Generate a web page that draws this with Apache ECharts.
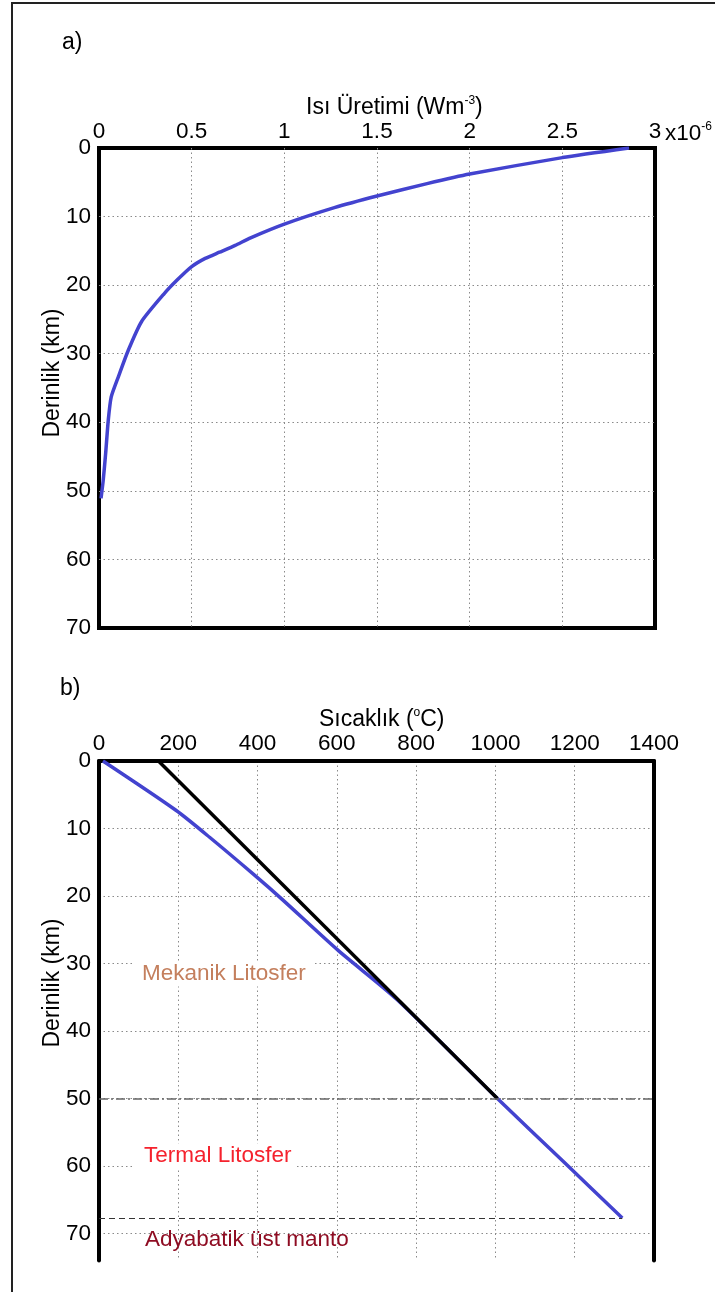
<!DOCTYPE html>
<html>
<head>
<meta charset="utf-8">
<script src="https://cdn.jsdelivr.net/npm/echarts@6/dist/echarts.min.js"></script>
<style>
html, body { margin: 0; padding: 0; background: #fff; }
#chart { width: 715px; height: 1292px; }
</style>
</head>
<body>
<div id="chart"></div>
<script>
// a) isi uretimi - derinlik
var heatDepth = [0, 1.4, 3.8, 5.2, 7.0, 8.7, 11.1, 13.1, 14.2, 15.2, 16.1, 17.3, 19.3, 21.3, 25.3, 29.5, 33.4, 36.3, 39.7, 44.5, 48.4, 51.1];
var heatValue = [2.86, 2.5, 2.0, 1.77, 1.5, 1.27, 1.0, 0.818, 0.735, 0.65, 0.573, 0.5, 0.42, 0.35, 0.23, 0.158, 0.104, 0.066, 0.05, 0.036, 0.023, 0.011];

// b) sicaklik - derinlik (jeoterm + mekanik litosfer)
var geoDepth = [0, 7.3, 11.3, 17.1, 20.5, 28.1, 35.3, 50, 59.6, 67.7];
var geoTemp = [10, 194, 279, 396, 462, 604, 751, 1005, 1176, 1320];
var mechDepth = [0, 50];
var mechTemp = [150, 1005];

// sinirlar
var mechBase = 50;
var thermalBase = 67.7;

// eksenler
var heatTicks = [0, 0.5, 1, 1.5, 2, 2.5, 3];
var tempTicks = [0, 200, 400, 600, 800, 1000, 1200, 1400];
var depthTicks = [0, 10, 20, 30, 40, 50, 60, 70];

var font = 'Liberation Sans, Arial, sans-serif';
var gridColor = '#8a8a8a';
var blue = '#4343cf';

function pairs(xs, ys) {
	var out = [];
	for (var i = 0; i < xs.length; i++) {
		out.push([xs[i], ys[i]]);
	}
	return out;
}

function tickAxis(ticks) {
	return {
		min : ticks[0],
		max : ticks[ticks.length - 1],
		interval : ticks[1] - ticks[0]
	};
}

function plain(v) {
	return String(v);
}

var labelStyle = {
	color : '#000',
	fontFamily : font,
	fontSize : 22.5,
	formatter : plain
};

var split = {
	show : true,
	showMinLine : false,
	showMaxLine : false,
	lineStyle : {
		color : gridColor,
		width : 1,
		type : [1.5, 3]
	}
};

var heatX = tickAxis(heatTicks);
var tempX = tickAxis(tempTicks);
var depthY = tickAxis(depthTicks);

var charts = echarts.init(document.getElementById('chart'), null, {
			renderer : 'canvas'
		});

function supText(x, y, main1, sup, main2, size) {
	return {
		type : 'text',
		x : x,
		y : y,
		style : {
			text : '{n|' + main1 + '}{s|' + sup + '}' + (main2 ? '{n|' + main2 + '}' : ''),
			verticalAlign : 'middle',
			rich : {
				n : {
					fontFamily : font,
					fontSize : size,
					lineHeight : 26,
					fill : '#000'
				},
				s : {
					fontFamily : font,
					fontSize : 12,
					lineHeight : 26,
					verticalAlign : 'top',
					fill : '#000'
				}
			}
		}
	};
}

var option = {
	animation : false,
	backgroundColor : '#fff',
	grid : [{
				left : 99,
				top : 148,
				width : 556,
				height : 480,
				show : true,
				borderColor : '#000',
				borderWidth : 4,
				backgroundColor : 'transparent'
			}, {
				left : 99,
				top : 761,
				width : 555,
				height : 499.5
			}],
	xAxis : [{
				gridIndex : 0,
				type : 'value',
				position : 'top',
				min : heatX.min,
				max : heatX.max,
				interval : heatX.interval,
				axisLine : {
					show : false
				},
				axisTick : {
					show : false
				},
				axisLabel : Object.assign({
							margin : 5
						}, labelStyle),
				splitLine : split
			}, {
				gridIndex : 1,
				type : 'value',
				position : 'top',
				min : tempX.min,
				max : tempX.max,
				interval : tempX.interval,
				axisLine : {
					show : true,
					onZero : false,
					lineStyle : {
						color : '#000',
						width : 4
					}
				},
				axisTick : {
					show : false
				},
				axisLabel : Object.assign({
							margin : 6
						}, labelStyle),
				splitLine : split
			}],
	yAxis : [{
				gridIndex : 0,
				type : 'value',
				inverse : true,
				min : depthY.min,
				max : depthY.max,
				interval : depthY.interval,
				axisLine : {
					show : false
				},
				axisTick : {
					show : false
				},
				axisLabel : Object.assign({
							margin : 8
						}, labelStyle),
				splitLine : split
			}, {
				gridIndex : 1,
				type : 'value',
				inverse : true,
				min : depthY.min,
				max : 74,
				interval : depthY.interval,
				axisLine : {
					show : true,
					onZero : false,
					lineStyle : {
						color : '#000',
						width : 4
					}
				},
				axisTick : {
					show : false
				},
				axisLabel : Object.assign({
							margin : 8,
							showMaxLabel : false
						}, labelStyle),
				splitLine : split
			}, {
				gridIndex : 1,
				type : 'value',
				position : 'right',
				inverse : true,
				min : depthY.min,
				max : 74,
				interval : depthY.interval,
				axisLine : {
					show : true,
					onZero : false,
					lineStyle : {
						color : '#000',
						width : 4
					}
				},
				axisTick : {
					show : false
				},
				axisLabel : {
					show : false
				},
				splitLine : {
					show : false
				}
			}],
	series : [{
				name : 'Isı Üretimi',
				type : 'line',
				xAxisIndex : 0,
				yAxisIndex : 0,
				data : pairs(heatValue, heatDepth),
				showSymbol : false,
				smooth : 0.2,
				lineStyle : {
					color : blue,
					width : 3.5
				}
			}, {
				name : 'Jeoterm',
				type : 'line',
				xAxisIndex : 1,
				yAxisIndex : 1,
				data : pairs(geoTemp, geoDepth),
				showSymbol : false,
				smooth : 0.25,
				lineStyle : {
					color : blue,
					width : 3.5
				},
				markLine : {
					silent : true,
					symbol : ['none', 'none'],
					label : {
						show : false
					},
					data : [[{
								coord : [0, thermalBase],
								lineStyle : {
									color : '#333',
									width : 1,
									type : [6, 4]
								}
							}, {
								coord : [geoTemp[geoTemp.length - 1], thermalBase]
							}]]
				}
			}, {
				name : 'Mekanik Litosfer',
				type : 'line',
				xAxisIndex : 1,
				yAxisIndex : 1,
				data : pairs(mechTemp, mechDepth),
				showSymbol : false,
				lineStyle : {
					color : '#000',
					width : 3.5
				},
				markLine : {
					silent : true,
					symbol : ['none', 'none'],
					label : {
						show : false
					},
					lineStyle : {
						color : '#666',
						width : 1.5,
						type : [9, 3, 2, 3]
					},
					data : [{
								yAxis : mechBase
							}]
				}
			}],
	graphic : [{
				type : 'line',
				shape : {
					x1 : 12,
					y1 : 2,
					x2 : 12,
					y2 : 1292
				},
				style : {
					stroke : '#222',
					lineWidth : 2
				}
			}, {
				type : 'line',
				shape : {
					x1 : 11,
					y1 : 3,
					x2 : 715,
					y2 : 3
				},
				style : {
					stroke : '#222',
					lineWidth : 2
				}
			}, {
				type : 'text',
				x : 62,
				y : 43,
				style : {
					text : 'a)',
					font : '23px ' + font,
					fill : '#000',
					verticalAlign : 'middle'
				}
			}, {
				type : 'text',
				x : 60,
				y : 689,
				style : {
					text : 'b)',
					font : '23px ' + font,
					fill : '#000',
					verticalAlign : 'middle'
				}
			}, supText(306, 108, 'Isı Üretimi (Wm', '-3', ')', 23),
			supText(665, 134, 'x10', '-6', '', 22.5),
			supText(319, 720, 'Sıcaklık (', 'o', 'C)', 23), {
				type : 'text',
				x : 53,
				y : 373,
				rotation : Math.PI / 2,
				style : {
					text : 'Derinlik (km)',
					font : '23px ' + font,
					fill : '#000',
					align : 'center',
					verticalAlign : 'middle'
				}
			}, {
				type : 'text',
				x : 53,
				y : 983,
				rotation : Math.PI / 2,
				style : {
					text : 'Derinlik (km)',
					font : '23px ' + font,
					fill : '#000',
					align : 'center',
					verticalAlign : 'middle'
				}
			}, {
				type : 'text',
				x : 134,
				y : 974,
				z : 10,
				style : {
					text : 'Mekanik Litosfer',
					font : '22.5px ' + font,
					fill : '#c47f5d',
					verticalAlign : 'middle',
					backgroundColor : '#fff',
					padding : [1, 9, 1, 8]
				}
			}, {
				type : 'text',
				x : 135,
				y : 1156,
				z : 10,
				style : {
					text : 'Termal Litosfer',
					font : '22.5px ' + font,
					fill : '#f5222d',
					verticalAlign : 'middle',
					backgroundColor : '#fff',
					padding : [1, 4, 1, 9]
				}
			}, {
				type : 'text',
				x : 145,
				y : 1240,
				z : 10,
				style : {
					text : 'Adyabatik üst manto',
					font : '22.5px ' + font,
					fill : '#8e0c22',
					verticalAlign : 'middle'
				}
			}]
};

charts.setOption(option);
</script>
</body>
</html>
